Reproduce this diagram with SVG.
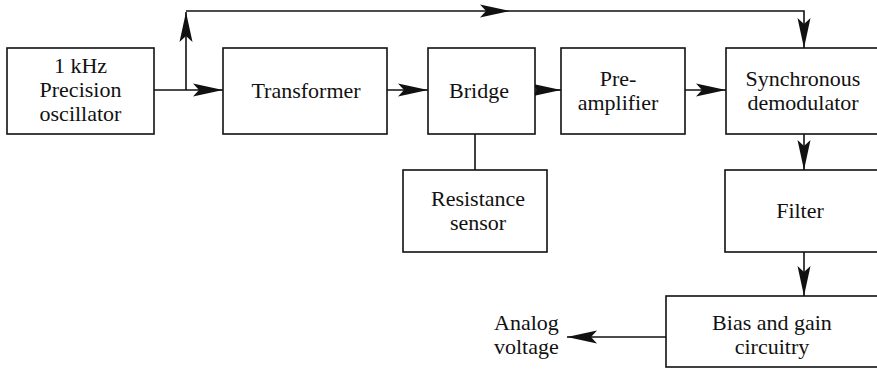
<svg xmlns="http://www.w3.org/2000/svg" width="877" height="377" viewBox="0 0 877 377">
<style>
.box{fill:#fff;stroke:#111;stroke-width:1.6}
.ln{fill:none;stroke:#111;stroke-width:1.6}
.t{font-family:"Liberation Serif","Times New Roman",serif;font-size:22px;fill:#111;text-anchor:middle}
.ts{font-family:"Liberation Serif","Times New Roman",serif;font-size:22px;fill:#111}
</style>
<defs>
<marker id="ah" markerUnits="userSpaceOnUse" viewBox="0 -7 30 14" refX="30" refY="0" markerWidth="30" markerHeight="14" orient="auto">
<path d="M0,-6.5 L30,0 L0,6.5 L6,0 Z" fill="#111"/>
</marker>
</defs>
<rect width="877" height="377" fill="#fff"/>
<g id="connectors">
<path class="ln" d="M154,90 H223" marker-end="url(#ah)"/>
<path class="ln" d="M186,90 V12" marker-end="url(#ah)"/>
<path class="ln" d="M186,11 H510" marker-end="url(#ah)"/>
<path class="ln" d="M510,11 H804 V48" marker-end="url(#ah)"/>
<path class="ln" d="M387,90 H428" marker-end="url(#ah)"/>
<path class="ln" d="M535,90 H561" marker-end="url(#ah)"/>
<path class="ln" d="M685,90 H726" marker-end="url(#ah)"/>
<path class="ln" d="M475,134 V170"/>
<path class="ln" d="M804,134 V170" marker-end="url(#ah)"/>
<path class="ln" d="M804,252 V296" marker-end="url(#ah)"/>
<path class="ln" d="M666,337 H567" marker-end="url(#ah)"/>
</g>
<g id="oscillator">
<rect class="box" x="7" y="48" width="147" height="86"/>
<text class="t" x="80.5" y="73">1 kHz</text>
<text class="t" x="80.5" y="97">Precision</text>
<text class="t" x="80.5" y="121">oscillator</text>
</g>
<g id="transformer">
<rect class="box" x="223" y="48" width="164" height="86"/>
<text class="t" x="306" y="98">Transformer</text>
</g>
<g id="bridge">
<rect class="box" x="428" y="48" width="107" height="86"/>
<text class="t" x="479" y="98">Bridge</text>
</g>
<g id="preamplifier">
<rect class="box" x="561" y="48" width="124" height="86"/>
<text class="t" x="618" y="86">Pre-</text>
<text class="t" x="618" y="110">amplifier</text>
</g>
<g id="demodulator">
<rect class="box" x="726" y="48" width="162" height="86"/>
<text class="t" x="803" y="86">Synchronous</text>
<text class="t" x="803" y="110">demodulator</text>
</g>
<g id="sensor">
<rect class="box" x="403" y="170" width="144" height="82"/>
<text class="t" x="478" y="206">Resistance</text>
<text class="t" x="478" y="230">sensor</text>
</g>
<g id="filter">
<rect class="box" x="725" y="170" width="162" height="82"/>
<text class="t" x="800" y="218">Filter</text>
</g>
<g id="bias">
<rect class="box" x="666" y="296" width="225" height="71"/>
<text class="t" x="772" y="330">Bias and gain</text>
<text class="t" x="772" y="354">circuitry</text>
</g>
<g id="output">
<text class="ts" x="494" y="330">Analog</text>
<text class="ts" x="494" y="354">voltage</text>
</g>
</svg>
